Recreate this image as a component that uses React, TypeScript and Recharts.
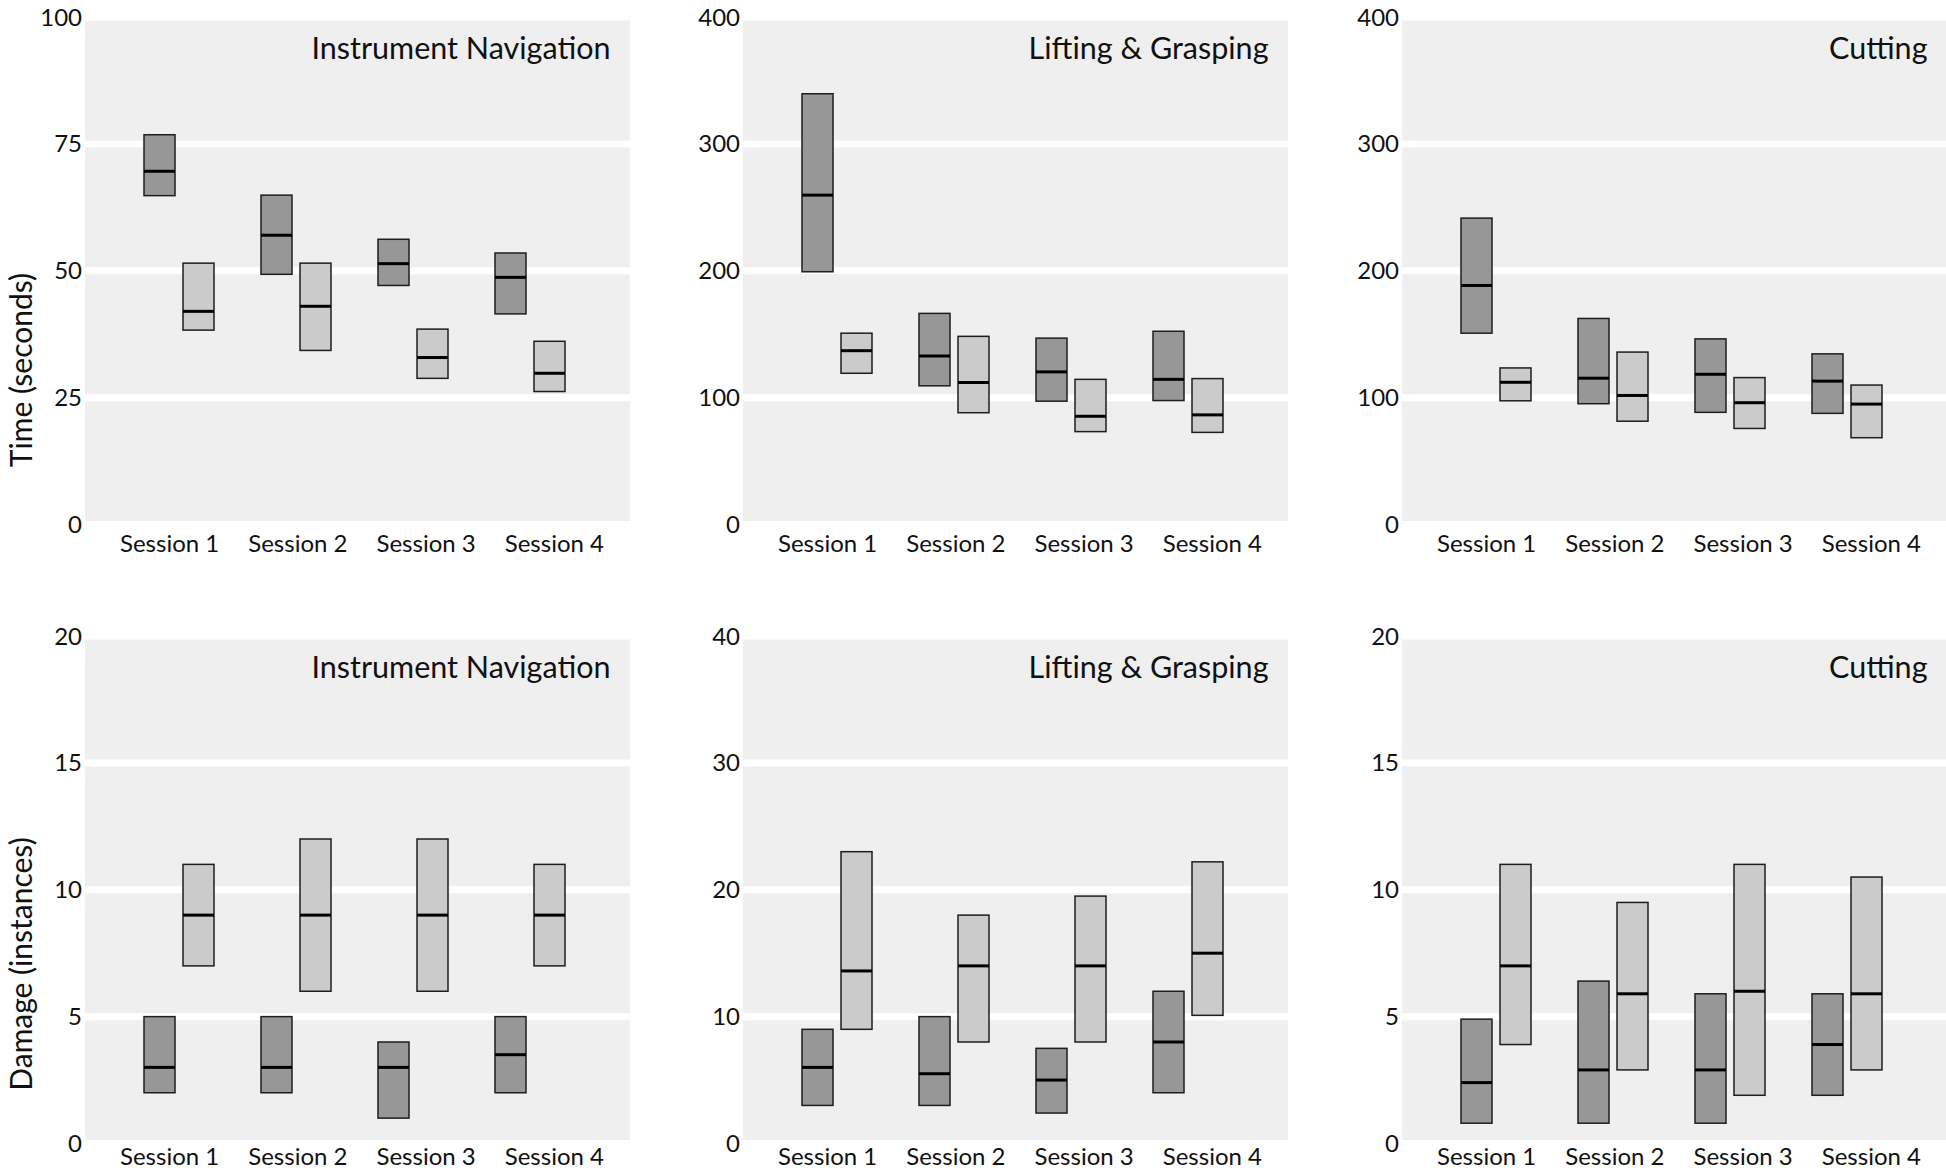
import { ComposedChart, Bar, Line, XAxis, YAxis, CartesianGrid } from "recharts";

const FONT = "Lato, 'Open Sans', sans-serif";

const sessions = ["Session 1", "Session 2", "Session 3", "Session 4"];

// each box: [low, median, high]
const navTimeDark = [[64.8, 69.6, 76.8], [49.3, 57.0, 64.9], [47.1, 51.4, 56.2], [41.5, 48.7, 53.5]];
const navTimeLight = [[38.3, 42.0, 51.5], [34.3, 43.0, 51.5], [28.8, 32.9, 38.5], [26.2, 29.8, 36.1]];
const liftTimeDark = [[199.2, 259.6, 339.5], [109.3, 132.8, 166.4], [97.2, 120.3, 146.9], [97.7, 114.4, 152.3]];
const liftTimeLight = [[119.2, 137, 150.8], [88.1, 111.9, 148.3], [73.2, 85.3, 114.4], [72.6, 86.4, 115]];
const cutTimeDark = [[150.8, 188.4, 241.5], [95.2, 115.3, 162.4], [88.4, 118.4, 146.3], [87.6, 113, 134.5]];
const cutTimeLight = [[97.5, 112.1, 123.4], [81.4, 101.7, 135.9], [75.7, 96, 115.8], [68.4, 94.9, 109.9]];
const navDmgDark = [[2, 3, 5], [2, 3, 5], [1, 3, 4], [2, 3.5, 5]];
const navDmgLight = [[7, 9, 11], [6, 9, 12], [6, 9, 12], [7, 9, 11]];
const liftDmgDark = [[3, 6, 9], [3, 5.5, 10], [2.4, 5, 7.5], [4, 8, 12]];
const liftDmgLight = [[9, 13.6, 23], [8, 14, 18], [8, 14, 19.5], [10.1, 15, 22.2]];
const cutDmgDark = [[0.8, 2.4, 4.9], [0.8, 2.9, 6.4], [0.8, 2.9, 5.9], [1.9, 3.9, 5.9]];
const cutDmgLight = [[3.9, 7, 11], [2.9, 5.9, 9.5], [1.9, 6, 11], [2.9, 5.9, 10.5]];

const timeTicks100 = [0, 25, 50, 75, 100];
const timeTicks400 = [0, 100, 200, 300, 400];
const dmgTicks20 = [0, 5, 10, 15, 20];
const dmgTicks40 = [0, 10, 20, 30, 40];

const DARK = "#979797";
const LIGHT = "#cbcbcb";
const PLOT_W = 545;
const PLOT_H = 507.5;
const Y_W = 80;
const COL_LEFT = [84.5, 742.5, 1401.5];
const ROW_PLOT_TOP = [17, 636];
const ROW_TOP = [0, 600];
const ROW_LABEL_GAP = [10, 4];

/** Box with a median bar; median y is interpolated inside the bar's own pixel extent. */
function boxShape(prefix: string, fill: string) {
  return (props: any) => {
    const { x, y, width, height, payload } = props;
    const lo = payload[prefix + "Lo"];
    const med = payload[prefix + "Med"];
    const hi = payload[prefix + "Hi"];
    const top = Math.min(y, y + height);
    const h = Math.abs(height);
    const my = top + (h * (hi - med)) / (hi - lo);
    return (
      <g>
        <rect x={x} y={top} width={width} height={h} fill={fill} stroke="#1e1e1e" strokeWidth={1.5} />
        <line x1={x} x2={x + width} y1={my} y2={my} stroke="#000" strokeWidth={3} />
      </g>
    );
  };
}

interface PanelProps {
  col: number;
  row: number;
  title: string;
  yMax: number;
  ticks: number[];
  dark: number[][];
  light: number[][];
}

function Panel({ col, row, title, yMax, ticks, dark, light }: PanelProps) {
  const data = sessions.map((s, i) => ({
    session: s,
    aLo: dark[i][0],
    aMed: dark[i][1],
    aHi: dark[i][2],
    bLo: light[i][0],
    bMed: light[i][1],
    bHi: light[i][2],
  }));
  const top = ROW_TOP[row];
  const mTop = ROW_PLOT_TOP[row] - top;
  const width = Y_W + PLOT_W;
  const height = mTop + PLOT_H + 45;
  const left = COL_LEFT[col] - Y_W;

  return (
    <div style={{ position: "absolute", left, top, width, height }}>
      <ComposedChart
        width={width}
        height={height}
        data={data}
        barGap={8}
        margin={{ top: mTop, right: 0, bottom: 0, left: 0 }}
      >
        <CartesianGrid xAxisId="box" vertical={false} fill="#efefef" stroke="#ffffff" strokeWidth={7} />
        <XAxis xAxisId="box" dataKey="session" hide height={0} padding={{ left: 35, right: 42 }} />
        <XAxis
          xAxisId="lab"
          dataKey="session"
          height={45}
          interval={0}
          padding={{ left: 20.5, right: 11.5 }}
          axisLine={false}
          tickLine={false}
          tickSize={0}
          tickMargin={ROW_LABEL_GAP[row]}
          tick={{ fontSize: 24, fill: "#111", fontFamily: FONT }}
        />
        <YAxis
          domain={[0, yMax]}
          ticks={ticks}
          width={Y_W}
          axisLine={false}
          tickLine={false}
          tickSize={0}
          tickMargin={3}
          tick={{ fontSize: 24, fill: "#111", fontFamily: FONT }}
        />
        <Bar
          xAxisId="box"
          dataKey={(d: any) => [d.aLo, d.aHi]}
          barSize={31}
          shape={boxShape("a", DARK)}
          isAnimationActive={false}
        />
        <Bar
          xAxisId="box"
          dataKey={(d: any) => [d.bLo, d.bHi]}
          barSize={31}
          shape={boxShape("b", LIGHT)}
          isAnimationActive={false}
        />
        <Line
          xAxisId="lab"
          dataKey="aMed"
          stroke="none"
          dot={false}
          activeDot={false}
          isAnimationActive={false}
        />
      </ComposedChart>
      <svg
        width={width}
        height={height}
        style={{ position: "absolute", left: 0, top: 0, pointerEvents: "none" }}
      >
        <text
          x={Y_W + 525.5}
          y={mTop + 41.5}
          textAnchor="end"
          fontSize={30.5}
          fontFamily={FONT}
          fill="#111"
        >
          {title}
        </text>
      </svg>
    </div>
  );
}

export default function App() {
  return (
    <div
      style={{
        position: "absolute",
        left: 0,
        top: 0,
        width: 1946,
        height: 1171,
        background: "#fff",
        overflow: "hidden",
        fontFamily: FONT,
      }}
    >
      <Panel col={0} row={0} title="Instrument Navigation" yMax={100} ticks={timeTicks100} dark={navTimeDark} light={navTimeLight} />
      <Panel col={1} row={0} title="Lifting & Grasping" yMax={400} ticks={timeTicks400} dark={liftTimeDark} light={liftTimeLight} />
      <Panel col={2} row={0} title="Cutting" yMax={400} ticks={timeTicks400} dark={cutTimeDark} light={cutTimeLight} />
      <Panel col={0} row={1} title="Instrument Navigation" yMax={20} ticks={dmgTicks20} dark={navDmgDark} light={navDmgLight} />
      <Panel col={1} row={1} title="Lifting & Grasping" yMax={40} ticks={dmgTicks40} dark={liftDmgDark} light={liftDmgLight} />
      <Panel col={2} row={1} title="Cutting" yMax={20} ticks={dmgTicks20} dark={cutDmgDark} light={cutDmgLight} />
      <svg width={60} height={1171} style={{ position: "absolute", left: 0, top: 0 }}>
        <text
          x={32}
          y={370}
          transform="rotate(-90 32 370)"
          textAnchor="middle"
          fontSize={30}
          fontFamily={FONT}
          fill="#111"
        >
          Time (seconds)
        </text>
        <text
          x={32}
          y={964}
          transform="rotate(-90 32 964)"
          textAnchor="middle"
          fontSize={30}
          fontFamily={FONT}
          fill="#111"
        >
          Damage (instances)
        </text>
      </svg>
    </div>
  );
}
